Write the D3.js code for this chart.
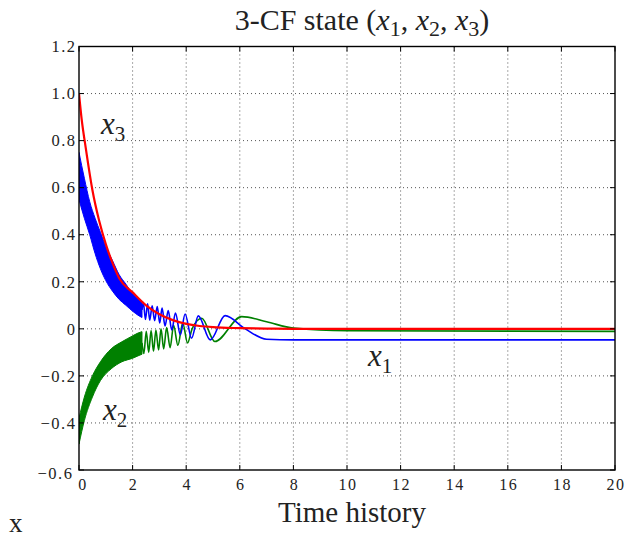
<!DOCTYPE html>
<html>
<head>
<meta charset="utf-8">
<script src="https://cdn.jsdelivr.net/npm/d3@7"></script>
<style>
  html, body { margin: 0; padding: 0; background: #fff; }
  svg { display: block; }
  text { font-family: "Liberation Serif", "DejaVu Serif", serif; fill: #222; }
</style>
</head>
<body>
<svg id="chart" width="626" height="544"></svg>
<script>
// ---------------- data ----------------
const xTicks = [0, 2, 4, 6, 8, 10, 12, 14, 16, 18, 20];
const xTickLabels = ["0", "2", "4", "6", "8", "10", "12", "14", "16", "18", "20"];
const yTicks = [1.2, 1.0, 0.8, 0.6, 0.4, 0.2, 0, -0.2, -0.4, -0.6];
const yTickLabels = ["1.2", "1.0", "0.8", "0.6", "0.4", "0.2", "0", "\u22120.2", "\u22120.4", "\u22120.6"];

// x3 (red)
const x3Time   = [0, 0.1, 0.25, 0.5, 0.75, 1.0, 1.25, 1.5, 2.0, 2.5, 3.0, 3.5, 4.0, 4.5, 5.0, 6.0, 7.0, 8.0, 20];
const x3Values = [1.0, 0.89, 0.77, 0.59, 0.46, 0.36, 0.28, 0.215, 0.155, 0.1, 0.062, 0.037, 0.021, 0.012, 0.007, 0.003, 0.001, 0.0, 0.0];

// x1 (blue): fast-oscillation band, then resolved extrema
const x1BandTime  = [0, 0.2, 0.4, 0.6, 0.8, 1.0, 1.25, 1.5, 1.75, 2.0, 2.2, 2.35];
const x1BandUpper = [0.75, 0.64, 0.54, 0.47, 0.41, 0.35, 0.29, 0.23, 0.19, 0.15, 0.13, 0.118];
const x1BandLower = [0.55, 0.47, 0.40, 0.32, 0.255, 0.205, 0.16, 0.125, 0.10, 0.075, 0.058, 0.048];
const x1Time   = [2.35, 2.40, 2.48, 2.56, 2.64, 2.73, 2.82, 2.92, 3.01, 3.10, 3.21, 3.33, 3.46, 3.60, 3.78, 3.96, 4.20, 4.45, 4.90, 5.45, 6.2, 7.0, 8.0, 20];
const x1Values = [0.08, 0.112, 0.04, 0.106, 0.037, 0.098, 0.035, 0.095, 0.025, 0.088, 0.012, 0.078, -0.005, 0.067, -0.025, 0.063, -0.04, 0.055, -0.047, 0.056, 0.0, -0.044, -0.047, -0.047];

// x2 (green): fast-oscillation band, then resolved extrema
const x2BandTime  = [0, 0.2, 0.5, 0.8, 1.2, 1.6, 2.0, 2.2, 2.35];
const x2BandUpper = [-0.38, -0.29, -0.20, -0.14, -0.085, -0.055, -0.03, -0.018, -0.012];
const x2BandLower = [-0.49, -0.39, -0.29, -0.22, -0.17, -0.14, -0.125, -0.115, -0.108];
const x2Time   = [2.35, 2.42, 2.51, 2.60, 2.69, 2.78, 2.87, 2.97, 3.06, 3.16, 3.27, 3.40, 3.53, 3.69, 3.87, 4.05, 4.22, 4.58, 5.07, 6.07, 7.0, 8.0, 10.0, 20];
const x2Values = [-0.06, -0.105, -0.01, -0.1, -0.007, -0.095, -0.005, -0.09, 0.0, -0.085, 0.005, -0.08, 0.015, -0.07, 0.025, -0.06, 0.0, 0.045, -0.054, 0.052, 0.03, 0.003, -0.008, -0.011];

// ---------------- drawing ----------------
const svg = d3.select("#chart");
const x = d3.scaleLinear().domain([0, 20]).range([79, 615]);
const y = d3.scaleLinear().domain([-0.6, 1.2]).range([470, 46.5]);

// grid
const grid = svg.append("g").attr("stroke", "#555").attr("stroke-width", 1).attr("stroke-dasharray", "1,3");
grid.selectAll("line.v").data(xTicks.slice(1, -1)).join("line")
  .attr("x1", d => x(d)).attr("x2", d => x(d)).attr("y1", y(1.2)).attr("y2", y(-0.6));
grid.selectAll("line.h").data(yTicks.slice(1, -1)).join("line").attr("class", "h")
  .attr("x1", x(0)).attr("x2", x(20)).attr("y1", d => y(d)).attr("y2", d => y(d));

// clip
svg.append("clipPath").attr("id", "clip").append("rect")
  .attr("x", x(0)).attr("y", y(1.2)).attr("width", x(20) - x(0)).attr("height", y(-0.6) - y(1.2));
const plot = svg.append("g").attr("clip-path", "url(#clip)");

const area = (t, lo, hi) => d3.area().x((d, i) => x(t[i])).y0((d, i) => y(lo[i])).y1((d, i) => y(hi[i])).curve(d3.curveMonotoneX)(t);
const line = (t, v) => d3.line().x((d, i) => x(t[i])).y((d, i) => y(v[i])).curve(d3.curveMonotoneX)(t);

// green
plot.append("path").attr("d", area(x2BandTime, x2BandLower, x2BandUpper)).attr("fill", "#008000").attr("stroke", "#008000").attr("stroke-width", 1);
plot.append("path").attr("d", line(x2Time, x2Values)).attr("fill", "none").attr("stroke", "#008000").attr("stroke-width", 1.6);
// blue
plot.append("path").attr("d", area(x1BandTime, x1BandLower, x1BandUpper)).attr("fill", "#0000ff").attr("stroke", "#0000ff").attr("stroke-width", 1);
plot.append("path").attr("d", line(x1Time, x1Values)).attr("fill", "none").attr("stroke", "#0000ff").attr("stroke-width", 1.6);
// red
plot.append("path").attr("d", line(x3Time, x3Values)).attr("fill", "none").attr("stroke", "#ff0000").attr("stroke-width", 2.2);

// frame
svg.append("rect").attr("x", x(0)).attr("y", y(1.2)).attr("width", x(20) - x(0)).attr("height", y(-0.6) - y(1.2))
  .attr("fill", "none").attr("stroke", "#000").attr("stroke-width", 1.4);

// inward ticks on all sides
const tk = svg.append("g").attr("stroke", "#000").attr("stroke-width", 1);
tk.selectAll("line.b").data(xTicks).join("line").attr("class", "b")
  .attr("x1", d => x(d)).attr("x2", d => x(d)).attr("y1", y(-0.6)).attr("y2", y(-0.6) - 5);
tk.selectAll("line.t").data(xTicks).join("line").attr("class", "t")
  .attr("x1", d => x(d)).attr("x2", d => x(d)).attr("y1", y(1.2)).attr("y2", y(1.2) + 5);
tk.selectAll("line.l").data(yTicks).join("line").attr("class", "l")
  .attr("x1", x(0)).attr("x2", x(0) + 5).attr("y1", d => y(d)).attr("y2", d => y(d));
tk.selectAll("line.r").data(yTicks).join("line").attr("class", "r")
  .attr("x1", x(20)).attr("x2", x(20) - 5).attr("y1", d => y(d)).attr("y2", d => y(d));

// tick labels
svg.append("g").selectAll("text").data(yTicks).join("text")
  .attr("x", (d, i) => i === yTicks.length - 1 ? 73.5 : 76.5)
  .attr("y", (d, i) => y(d) + (i === yTicks.length - 1 ? 3 : 0))
  .attr("dy", "0.35em").attr("text-anchor", "end").attr("font-size", 16.5).attr("letter-spacing", 1.5)
  .text((d, i) => yTickLabels[i]);
svg.append("g").selectAll("text").data(xTicks).join("text")
  .attr("x", (d, i) => x(d) + 1 + (i === 0 ? 3 : 0)).attr("y", 484.5).attr("dy", "0.35em")
  .attr("text-anchor", "middle").attr("font-size", 16).attr("letter-spacing", 1.5)
  .text((d, i) => xTickLabels[i]);

// title
const title = svg.append("text").attr("x", 362).attr("y", 30).attr("text-anchor", "middle").attr("font-size", 30);
title.append("tspan").text("3-CF state (");
[["1", ", "], ["2", ", "], ["3", ")"]].forEach(([s, after]) => {
  title.append("tspan").attr("font-style", "italic").text("x");
  title.append("tspan").attr("font-size", 22).attr("dy", 6).text(s);
  title.append("tspan").attr("dy", -6).text(after);
});

// axis labels
svg.append("text").attr("x", 352).attr("y", 521.5).attr("text-anchor", "middle").attr("font-size", 29).text("Time history");
svg.append("text").attr("x", 9).attr("y", 532).attr("font-size", 27).text("x");

// series annotations
function subLabel(px, py, s) {
  const t = svg.append("text").attr("x", px).attr("y", py).attr("font-size", 31);
  t.append("tspan").attr("font-style", "italic").text("x");
  t.append("tspan").attr("font-size", 21).attr("dy", 7).text(s);
}
subLabel(101, 134, "3");
subLabel(103, 420, "2");
subLabel(368, 366, "1");
</script>
</body>
</html>
